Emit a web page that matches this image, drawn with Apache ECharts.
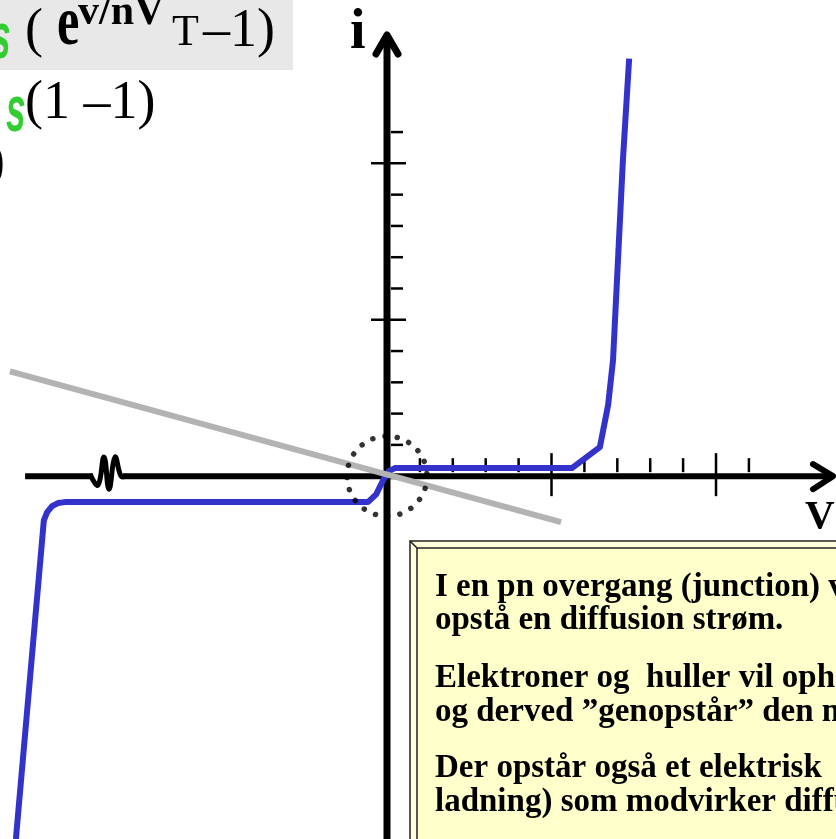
<!DOCTYPE html>
<html>
<head>
<meta charset="utf-8">
<script src="https://cdn.jsdelivr.net/npm/echarts@6/dist/echarts.min.js"></script>
<style>
  html, body { margin: 0; padding: 0; background: #ffffff; overflow: hidden; }
  #chart { width: 836px; height: 839px; }
</style>
</head>
<body>
<div id="chart"></div>
<script>
// Diode i–v characteristic with a load line and the zero-bias region marked.

// Diode curve (voltage in tick units, current in tick units)
const diodeV = [-11.28, -10.43, -10.33, -10.18, -10.0, -9.79, -0.58, -0.33, -0.12, 0.06, 0.24, 5.62, 6.47, 6.72, 6.87, 7.17, 7.36];
const diodeI = [-11.6, -1.41, -1.15, -0.96, -0.86, -0.83, -0.83, -0.58, -0.13, 0.16, 0.26, 0.26, 0.93, 2.27, 3.71, 10.10, 13.35];

// Load line
const loadV = [-11.46, 5.29];
const loadI = [3.35, -1.47];

// Axis tick positions
const vMinorTicks = [1, 2, 3, 4, 6, 7, 8, 9, 11];
const vMajorTicks = [5, 10];
const iMinorTicks = [1, 2, 3, 4, 6, 7, 8, 9, 11];
const iMajorTicks = [5, 10];

// Scale break on the negative voltage axis
const vBreak = [-8.48];

// Operating point highlighted by the dotted ring
const originPoint = [[0, 0]];

// Axis ranges; the drawn voltage axis starts at V_AXIS_START
const V_MIN = -11.763, V_MAX = 13.647, V_AXIS_START = -11.0;
const I_MIN = -11.6, I_MAX = 14.2;

// Explanatory note
const noteLines = [
  'I en pn overgang (junction) vil der',
  'opstå en diffusion strøm.',
  'Elektroner og  huller vil ophæve hinanden',
  'og derved ”genopstår” den neutrale',
  'Der opstår også et elektrisk',
  'ladning) som modvirker diffusionen.'
];
const noteBaselines = [597, 630, 688, 722, 778, 812];

const SERIF = '"Liberation Serif", "Times New Roman", serif';
const SANS = '"Liberation Sans", Arial, sans-serif';
const INK = '#000000';

function zip(a, b) { return a.map((v, i) => [v, b[i]]); }

// text placed by its baseline (vertical centre offset for the serif face)
function baselineText(str, x, baseline, size, extra) {
  return {
    type: 'text',
    x: x,
    y: baseline - 0.3 * size,
    style: Object.assign({
      text: str,
      fontFamily: SERIF,
      fontSize: size,
      fill: INK,
      verticalAlign: 'middle',
      align: 'left'
    }, extra || {})
  };
}

function axesRender(params, api) {
  const o = api.coord([0, 0]);
  const xl = api.coord([V_AXIS_START, 0]);
  const xr = api.coord([V_MAX, 0]);
  const yb = api.coord([0, I_MIN]);
  const yt = api.coord([0, I_MAX]);
  const y0 = o[1], x0 = o[0];
  return {
    type: 'group',
    children: [
      { type: 'line', shape: { x1: xl[0], y1: y0, x2: xr[0] - 4, y2: y0 }, style: { stroke: INK, lineWidth: 6 } },
      { type: 'polyline', shape: { points: [[xr[0] - 23, y0 - 12], [xr[0] - 3, y0], [xr[0] - 23, y0 + 13]] },
        style: { stroke: INK, fill: 'none', lineWidth: 6, lineCap: 'round', lineJoin: 'round' } },
      { type: 'line', shape: { x1: x0, y1: yb[1], x2: x0, y2: yt[1] + 4 }, style: { stroke: INK, lineWidth: 7 } },
      { type: 'polyline', shape: { points: [[x0 - 11, yt[1] + 22], [x0, yt[1] + 3], [x0 + 11, yt[1] + 22]] },
        style: { stroke: INK, fill: 'none', lineWidth: 7, lineCap: 'round', lineJoin: 'round' } }
    ]
  };
}

function breakRender(params, api) {
  const p = api.coord([api.value(0), 0]);
  const cx = p[0], cy = p[1];
  return {
    type: 'group',
    children: [
      { type: 'rect', shape: { x: cx - 15, y: cy - 4, width: 30, height: 8 }, style: { fill: '#ffffff' } },
      { type: 'polyline',
        shape: { points: [[cx - 17, cy], [cx - 10, cy + 9], [cx - 4, cy - 19], [cx + 1, cy + 13], [cx + 7, cy - 19], [cx + 13, cy], [cx + 17, cy]], smooth: 0.45 },
        style: { stroke: INK, fill: 'none', lineWidth: 5, lineJoin: 'round', lineCap: 'round' } }
    ]
  };
}

function tickSeries(values, onV, from, to) {
  return {
    type: 'custom',
    silent: true,
    z: 3,
    data: values.map(v => onV ? [v, 0] : [0, v]),
    renderItem: function (params, api) {
      const p = api.coord([api.value(0), api.value(1)]);
      const shape = onV
        ? { x1: p[0], y1: p[1] - from, x2: p[0], y2: p[1] - to }
        : { x1: p[0] + from, y1: p[1], x2: p[0] + to, y2: p[1] };
      return { type: 'line', shape: shape, style: { stroke: INK, lineWidth: 2.5 } };
    }
  };
}

const chart = echarts.init(document.getElementById('chart'), null, { renderer: 'canvas' });

const greenS = { fontFamily: SANS, fontStyle: 'italic', fontWeight: 'bold', fill: '#33cc33' };

const formula = [
  { type: 'rect', shape: { x: 0, y: 0, width: 293, height: 70 }, style: { fill: '#e8e8e8' }, z: 0 },
  Object.assign(baselineText('s', -9, 60, 64, greenS), { scaleX: 0.55 }),
  baselineText('(', 25, 48, 54),
  Object.assign(baselineText('e', 57, 47, 70, { fontWeight: 'bold' }), { scaleX: 0.72 }),
  baselineText('v/nV', 78, 26, 42, { fontWeight: 'bold' }),
  baselineText('T', 172, 47, 44),
  baselineText('–1)', 203, 48, 54),
  Object.assign(baselineText('s', 6, 133, 64, greenS), { scaleX: 0.55 }),
  baselineText('(1 –1)', 25, 120, 54),
  baselineText(')', -13, 180, 54)
];

const note = [
  { type: 'rect', shape: { x: 410, y: 541, width: 500, height: 400 }, style: { fill: '#ffffdd', stroke: '#222222', lineWidth: 1.5 } },
  { type: 'rect', shape: { x: 417, y: 548, width: 500, height: 400 }, style: { fill: '#ffffcc', stroke: '#222222', lineWidth: 1.5 } },
  { type: 'line', shape: { x1: 410, y1: 541, x2: 417, y2: 548 }, style: { stroke: '#222222', lineWidth: 1.5 } }
].concat(noteLines.map((t, i) => baselineText(t, 435, noteBaselines[i], 33, { fontWeight: 'bold' })));

const labels = [
  baselineText('i', 350, 50, 56, { fontWeight: 'bold' }),
  baselineText('V', 805, 530, 41, { fontWeight: 'bold' })
];

chart.setOption({
  animation: false,
  backgroundColor: '#ffffff',
  grid: { left: 0, right: 0, top: 32, bottom: 0, containLabel: false },
  xAxis: { type: 'value', min: V_MIN, max: V_MAX, show: false },
  yAxis: { type: 'value', min: I_MIN, max: I_MAX, show: false },
  series: [
    { type: 'custom', silent: true, z: 2, data: [[0, 0]], renderItem: axesRender },
    { type: 'custom', silent: true, z: 3, data: vBreak.map(v => [v, 0]), renderItem: breakRender },
    tickSeries(vMinorTicks, true, 4, 18),
    tickSeries(vMajorTicks, true, -20, 23),
    tickSeries(iMinorTicks, false, 4, 16),
    tickSeries(iMajorTicks, false, -16, 19),
    {
      type: 'line', z: 4, silent: true, clip: false, showSymbol: false,
      data: zip(diodeV, diodeI),
      lineStyle: { color: '#3333cc', width: 6, join: 'round', cap: 'butt' }
    },
    {
      type: 'line', z: 5, silent: true, clip: false, showSymbol: false,
      data: zip(loadV, loadI),
      lineStyle: { color: '#b3b3b3', width: 6, cap: 'butt' }
    },
    {
      type: 'scatter', z: 6, silent: true,
      data: originPoint,
      symbol: 'circle', symbolSize: 80,
      itemStyle: { color: 'rgba(0,0,0,0)', borderColor: INK, borderWidth: 5.5, borderType: [0.01, 12.4], borderCap: 'round' }
    }
  ],
  graphic: formula.concat(note, labels)
});
</script>
</body>
</html>
